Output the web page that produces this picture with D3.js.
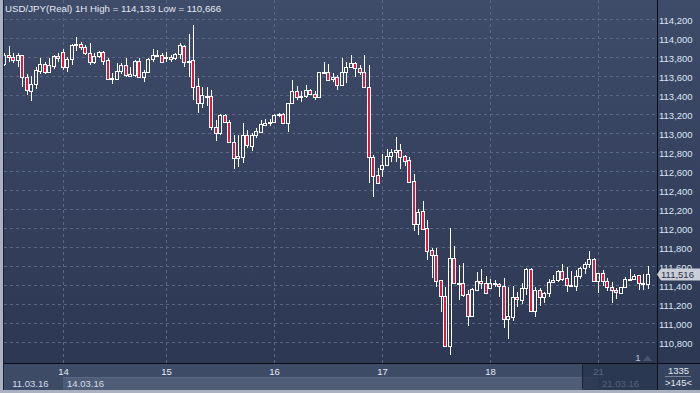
<!DOCTYPE html>
<html><head><meta charset="utf-8">
<script src="https://cdn.jsdelivr.net/npm/d3@7"></script>
<style>html,body{margin:0;padding:0;background:#2e3954;}svg{display:block;font-family:"Liberation Sans",Arial,sans-serif;}</style>
</head><body>
<svg id="chart" width="700" height="393"></svg>
<script>
// ---- data (USD/JPY hourly candles, 11.03.16 – 21.03.16) ----
const symbol = "USD/JPY(Real) 1H";
const open = [
113.726,113.824,113.800,113.765,113.824,113.589,113.445,113.516,113.656,113.726,113.645,113.708,113.811,
113.849,113.698,113.776,113.923,113.937,113.902,113.839,113.751,113.811,113.849,113.768,113.568,113.572,113.656,113.716,113.603,113.611,113.758,113.593,113.639,113.779,113.818,113.821,
113.786,113.776,113.786,113.828,113.916,113.744,113.765,113.495,113.313,113.382,113.389,113.066,112.997,113.189,113.113,112.905,112.737,112.751,112.979,112.866,112.979,113.014,113.087,113.102,
113.119,113.189,113.203,113.102,113.313,113.442,113.376,113.389,113.453,113.407,113.376,113.635,113.639,113.565,113.586,113.505,113.639,113.692,113.734,113.681,113.639,113.487,112.744,112.558,
112.618,112.660,112.758,112.800,112.821,112.758,112.716,112.495,112.039,112.179,111.997,111.768,111.713,111.453,111.288,110.758,111.681,111.411,111.418,111.305,111.077,111.347,111.442,111.418,
111.365,111.407,111.411,111.390,111.039,111.067,111.271,111.242,111.365,111.565,111.130,111.347,111.271,111.313,111.432,111.453,111.551,111.471,111.390,111.390,111.495,111.576,111.618,111.674,
111.442,111.523,111.442,111.376,111.347,111.319,111.376,111.456,111.466,111.502,111.411,111.411];
const high = [
113.842,113.916,113.842,113.842,113.824,113.621,113.600,113.698,113.789,113.751,113.789,113.824,113.839,
113.881,113.803,113.937,114.014,113.958,113.926,113.947,113.845,113.866,113.866,113.786,113.632,113.734,113.734,113.786,113.698,113.768,113.786,113.663,113.786,113.881,113.874,113.845,
113.856,113.824,113.839,113.947,113.923,114.042,114.133,113.576,113.487,113.487,113.453,113.137,113.197,113.200,113.137,112.979,112.979,113.102,113.032,113.000,113.050,113.137,113.144,113.151,
113.197,113.207,113.214,113.316,113.558,113.495,113.442,113.505,113.460,113.442,113.639,113.751,113.723,113.628,113.611,113.786,113.751,113.821,113.751,113.716,113.821,113.716,112.768,112.628,
112.776,112.828,112.835,112.955,112.884,112.768,112.747,112.568,112.197,112.284,112.084,111.786,111.786,111.453,111.382,111.997,111.811,111.611,111.628,111.347,111.365,111.534,111.565,111.495,
111.460,111.453,111.418,111.471,111.382,111.389,111.330,111.418,111.576,111.576,111.376,111.365,111.330,111.460,111.505,111.558,111.621,111.593,111.551,111.558,111.593,111.645,111.758,111.681,
111.523,111.558,111.471,111.435,111.365,111.382,111.487,111.568,111.513,111.509,111.516,111.600];
const low = [
113.705,113.747,113.737,113.695,113.487,113.400,113.340,113.463,113.621,113.621,113.632,113.674,113.751,
113.663,113.639,113.716,113.866,113.874,113.821,113.716,113.726,113.786,113.716,113.565,113.516,113.565,113.618,113.586,113.593,113.593,113.586,113.540,113.628,113.751,113.797,113.734,
113.751,113.751,113.768,113.776,113.692,113.593,113.347,113.214,113.260,113.284,113.032,112.919,112.979,113.102,112.892,112.624,112.645,112.681,112.839,112.814,112.944,112.997,113.074,113.074,
113.102,113.172,113.095,113.011,113.313,113.347,113.330,113.365,113.397,113.347,113.372,113.628,113.558,113.540,113.453,113.498,113.523,113.681,113.593,113.611,113.481,112.471,112.329,112.471,
112.540,112.653,112.698,112.698,112.621,112.653,112.487,111.972,111.926,111.979,111.663,111.477,111.382,111.119,110.751,110.666,111.418,111.242,111.277,110.968,111.067,111.340,111.355,111.305,
111.355,111.376,111.271,110.944,110.829,111.024,111.165,111.200,111.295,111.119,111.060,111.179,111.214,111.277,111.418,111.435,111.439,111.330,111.382,111.340,111.466,111.516,111.576,111.435,
111.319,111.390,111.337,111.214,111.250,111.305,111.365,111.445,111.453,111.347,111.347,111.355];
const close = [
113.821,113.800,113.768,113.824,113.586,113.453,113.516,113.663,113.726,113.645,113.716,113.811,113.786,
113.698,113.779,113.926,113.937,113.902,113.839,113.751,113.811,113.849,113.761,113.572,113.579,113.656,113.716,113.611,113.621,113.758,113.593,113.639,113.779,113.821,113.824,113.744,
113.800,113.797,113.832,113.923,113.744,113.758,113.487,113.313,113.400,113.389,113.066,112.997,113.189,113.113,112.902,112.737,112.758,112.979,112.871,112.979,113.021,113.095,113.102,113.119,
113.189,113.200,113.102,113.313,113.442,113.376,113.389,113.453,113.411,113.376,113.639,113.645,113.558,113.586,113.505,113.639,113.692,113.734,113.681,113.639,113.481,112.744,112.551,112.477,
112.663,112.758,112.800,112.821,112.751,112.708,112.487,112.039,112.172,111.993,111.761,111.713,111.445,111.288,110.758,111.681,111.418,111.424,111.295,111.077,111.358,111.442,111.418,111.313,
111.418,111.418,111.390,111.039,111.074,111.271,111.250,111.365,111.565,111.130,111.347,111.271,111.313,111.435,111.453,111.551,111.466,111.397,111.397,111.495,111.576,111.618,111.674,111.442,
111.523,111.442,111.376,111.347,111.326,111.376,111.460,111.466,111.495,111.418,111.424,111.516];
const dayNames  = ["14","15","16","17","18","21"];
const dayStarts = [13, 36, 60, 84, 108, 132];          // index of first candle of each day
const weekLabels = ["11.03.16","14.03.16","21.03.16"];
const weekStarts = [0, 13, 132];
const yTicks = [114.2,114.0,113.8,113.6,113.4,113.2,113.0,112.8,112.6,112.4,112.2,112.0,111.8,111.6,111.4,111.2,111.0,110.8];
const footerTop = "1335", footerBottom = ">145<";

// ---- drawing ----
const svg = d3.select("#chart");
const W = 700, H = 393;
const plotL = 4, plotR = 657, plotB = 363;
const n = open.length;
const x = d3.scaleLinear().domain([0, n - 1]).range([4.2, 647.7]);
const y = d3.scaleLinear().domain([110.6, 114.2]).range([361, 19]);
const fmt = v => d3.format(",")(Math.round(v * 1000));

const defs = svg.append("defs");
const g1 = defs.append("linearGradient").attr("id","bg").attr("x1",0).attr("y1",0).attr("x2",0).attr("y2",1);
g1.append("stop").attr("offset","0%").attr("stop-color","#3e4b69");
g1.append("stop").attr("offset","100%").attr("stop-color","#2b3651");
defs.append("clipPath").attr("id","clip").append("rect").attr("x",plotL).attr("y",0).attr("width",plotR-plotL).attr("height",plotB);

svg.append("rect").attr("width",W).attr("height",H).attr("fill","url(#bg)");

// bottom time bands
svg.append("rect").attr("x",plotL).attr("y",plotB).attr("width",plotR-plotL).attr("height",27).attr("fill","#3e4b67");
svg.append("rect").attr("x",Math.round(x(weekStarts[1]))).attr("y",377).attr("width",Math.round(x(weekStarts[2]))-Math.round(x(weekStarts[1]))).attr("height",13).attr("fill","#4f5c78");
svg.append("line").attr("x1",Math.round(x(weekStarts[1]))).attr("x2",Math.round(x(weekStarts[2]))).attr("y1",377.5).attr("y2",377.5).attr("stroke","#5a6782");

// right footer box
svg.append("rect").attr("x",plotR).attr("y",plotB).attr("width",W-plotR).attr("height",27).attr("fill","#36435e");

// grid
const grid = svg.append("g").attr("clip-path","url(#clip)");
grid.selectAll("line.h").data(yTicks).join("line")
  .attr("x1",plotL).attr("x2",plotR)
  .attr("y1",d=>Math.round(y(d))+0.5).attr("y2",d=>Math.round(y(d))+0.5)
  .attr("stroke","#5a6782").attr("stroke-dasharray","3,3");
grid.selectAll("line.v").data(dayStarts).join("line")
  .attr("x1",d=>Math.round(x(d))+0.5).attr("x2",d=>Math.round(x(d))+0.5)
  .attr("y1",0).attr("y2",plotB)
  .attr("stroke","#5a6782").attr("stroke-dasharray","3,3");

// candles
const candles = d3.range(n).map(i => ({i, o:open[i], h:high[i], l:low[i], c:close[i]}));
const cg = svg.append("g").attr("clip-path","url(#clip)");
const cs = cg.selectAll("g.c").data(candles).join("g");
cs.each(function(d){
  const g = d3.select(this);
  const cx = Math.round(x(d.i));
  const top = Math.round(y(Math.max(d.o,d.c)));
  let bot = Math.round(y(Math.min(d.o,d.c)));
  if (bot - top < 1) bot = top + 1;
  const yh = Math.round(y(d.h)), yl = Math.round(y(d.l));
  if (yh < top) g.append("line").attr("x1",cx+0.5).attr("x2",cx+0.5).attr("y1",yh).attr("y2",top).attr("stroke","#ffffff");
  if (yl > bot+1) g.append("line").attr("x1",cx+0.5).attr("x2",cx+0.5).attr("y1",bot+1).attr("y2",yl).attr("stroke","#ffffff");
  g.append("rect").attr("x",cx-1.5).attr("y",top+0.5).attr("width",3).attr("height",bot-top)
    .attr("fill", d.c < d.o ? "#e2173e" : "none").attr("stroke","#ffffff").attr("stroke-width",1);
});

// frame lines
svg.append("line").attr("x1",plotR+0.5).attr("x2",plotR+0.5).attr("y1",0).attr("y2",390).attr("stroke","#0c0f18");
svg.append("line").attr("x1",plotL).attr("x2",W).attr("y1",plotB+0.5).attr("y2",plotB+0.5).attr("stroke","#0c0f18");

// right axis
const axis = d3.axisRight(y).tickValues(yTicks).tickSize(0).tickPadding(2).tickFormat(fmt);
const ag = svg.append("g").attr("transform",`translate(${plotR},0)`).call(axis);
ag.select(".domain").remove();
ag.selectAll("text").attr("fill","#dce5f4").attr("font-size","9.5px").attr("font-family","Liberation Sans, Arial, sans-serif").attr("dy","0.45em");

// day labels
svg.selectAll("text.day").data(dayNames).join("text")
  .attr("x",(d,k)=>Math.round(x(dayStarts[k]))+0.5).attr("y",375)
  .attr("text-anchor","middle").attr("font-size","9.5px").attr("fill","#e2eaf6").text(d=>d);
// week labels
svg.selectAll("text.week").data(weekLabels).join("text")
  .attr("x",(d,k)=>k===0 ? x(weekStarts[k])+8 : Math.round(x(weekStarts[k]))+4).attr("y",387)
  .attr("font-size","9.5px").attr("fill","#d4dcea").text(d=>d);

// scroll overlay on the right of the time axis
svg.append("rect").attr("x",582).attr("y",plotB+1).attr("width",plotR-582).attr("height",26).attr("fill","#243049").attr("fill-opacity",0.72);
svg.append("line").attr("x1",582.5).attr("x2",582.5).attr("y1",plotB+2).attr("y2",388).attr("stroke","#1a2132");

// "1" marker
svg.append("text").attr("x",638).attr("y",361).attr("text-anchor","middle").attr("font-size","9.5px").attr("fill","#b9c6da").text("1");
svg.append("path").attr("d","M643,361 L647.5,355.5 L652,361 Z").attr("fill","#4b566e");

// footer box text
svg.append("text").attr("x",678.5).attr("y",373.5).attr("text-anchor","middle").attr("font-size","9.5px").attr("fill","#e2e8f2").text(footerTop);
svg.append("line").attr("x1",665).attr("x2",691).attr("y1",376.5).attr("y2",376.5).attr("stroke","#76829a");
svg.append("text").attr("x",678.5).attr("y",386).attr("text-anchor","middle").attr("font-size","9.5px").attr("fill","#e2e8f2").text(footerBottom);

// current price tag
const last = close[n-1];
const ty = Math.round(y(last));
svg.append("path").attr("d",`M${plotR},${ty+0.5} L${plotR+4},${ty-5.5} L${W},${ty-5.5} L${W},${ty+6.5} L${plotR+4},${ty+6.5} Z`)
  .attr("fill","#c9cdd5");
svg.append("text").attr("x",plotR+4).attr("y",ty).attr("dy","0.42em").attr("font-size","9.5px").attr("fill","#27304a").text(fmt(last));

// borders
svg.append("rect").attr("x",0).attr("y",0).attr("width",3).attr("height",H).attr("fill","#aab2c1");
svg.append("line").attr("x1",3.5).attr("x2",3.5).attr("y1",0).attr("y2",390).attr("stroke","#1b2233");
svg.append("rect").attr("x",0).attr("y",390).attr("width",W).attr("height",3).attr("fill","#aab2c1");

// title
svg.append("text").attr("x",5).attr("y",12).attr("font-size","9.7px").attr("fill","#e4e9f2")
  .text(`${symbol}  High = ${fmt(d3.max(high))} Low = ${fmt(d3.min(low))}`);
</script>
</body></html>
